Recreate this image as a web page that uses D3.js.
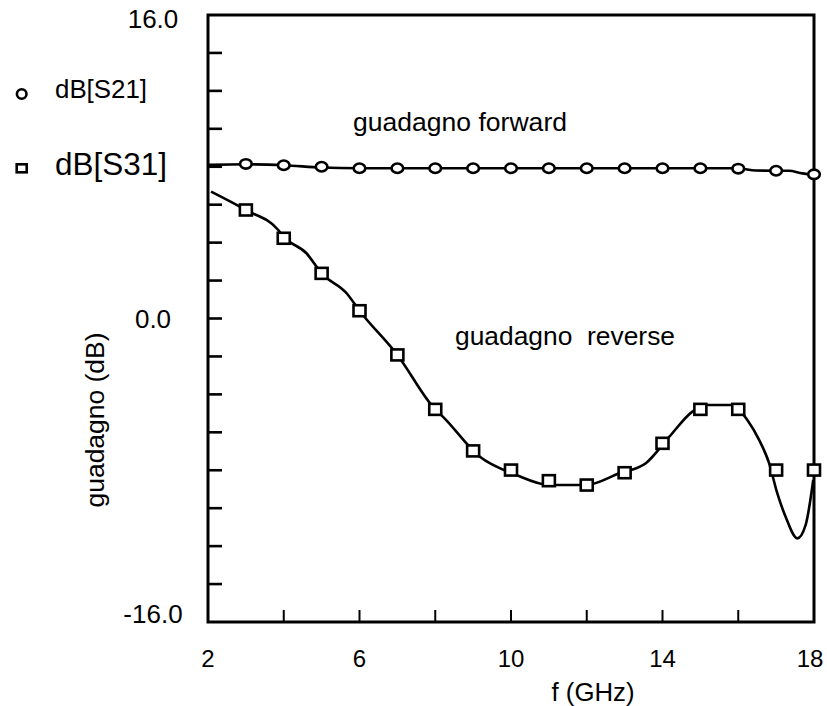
<!DOCTYPE html>
<meta charset="utf-8">
<style>
body { margin: 0; background: #fff; }
svg text { font-family: "Liberation Sans", Arial, sans-serif; fill: #000; white-space: pre; }
.frame { fill: none; stroke: #000; stroke-width: 3; }
.curve { fill: none; stroke: #000; stroke-width: 2.6; }
.mark { fill: #fff; stroke: #000; stroke-width: 2.6; }
</style>
<svg width="827" height="706"></svg>
<script src="https://d3js.org/d3.v7.min.js"></script>
<script>
// frequency (GHz) of the markers
var freqs = [3, 4, 5, 6, 7, 8, 9, 10, 11, 12, 13, 14, 15, 16, 17, 18];
// dB[S21] markers
var s21 = [8.15, 8.08, 8.0, 7.92, 7.92, 7.92, 7.92, 7.92, 7.92, 7.92, 7.92, 7.92, 7.92, 7.9, 7.79, 7.6];
// dB[S31] markers
var s31 = [5.72, 4.23, 2.38, 0.41, -1.92, -4.79, -6.98, -7.99, -8.55, -8.78, -8.13, -6.58, -4.79, -4.79, -7.99, -7.99];

// continuous curves [GHz, dB]
var s21Curve = [[2, 8.1], [3, 8.13], [4, 8.08], [5, 7.96], [6, 7.92], [10, 7.92], [16, 7.92],
  [16.46, 7.8], [17, 7.79], [17.34, 7.79], [17.69, 7.65], [18, 7.58]];
var s31Curve = [[2.08, 6.69], [3, 5.72], [3.85, 4.68], [4, 4.3], [4.6, 3.44], [5, 2.38], [5.66, 1.33],
  [6, 0.41], [7, -1.92], [8, -4.79], [8.2, -5.17], [9.17, -7.28], [10.14, -8.25], [11.01, -8.78],
  [11.98, -8.78], [12.86, -8.16], [13.56, -7.63], [14.18, -6.23], [14.79, -4.91], [15.14, -4.56],
  [15.84, -4.56], [16.24, -5.35], [16.55, -6.4], [16.81, -7.6], [17.03, -9.21], [17.25, -10.45],
  [17.56, -11.59], [17.78, -10.88], [17.98, -8.51]];

var xTicks = [4, 6, 8, 10, 12, 14, 16];
var xLabels = [2, 6, 10, 14, 18];
var yTicks = [14, 12, 10, 8, 6, 4, 2, 0, -2, -4, -6, -8, -10, -12, -14];
var yLabels = [16, 0, -16];

var svg = d3.select("svg");
var x = d3.scaleLinear().domain([2, 18]).range([208, 814]);
var y = d3.scaleLinear().domain([-16, 16]).range([622, 15]);
var fmt = d3.formatLocale({decimal: ".", thousands: ",", grouping: [3], currency: ["", ""], minus: "-"}).format(".1f");

function label(px, py, txt, size, len, anchor) {
  var t = svg.append("text")
      .attr("x", px).attr("y", py)
      .attr("font-size", size)
      .attr("text-anchor", anchor || "start")
      .text(txt);
  if (len) t.attr("textLength", len).attr("lengthAdjust", "spacingAndGlyphs");
  return t;
}

// ticks
svg.append("g").selectAll("line").data(yTicks).enter().append("line")
    .attr("x1", x(2)).attr("x2", x(2) + 14)
    .attr("y1", function(d) { return y(d); }).attr("y2", function(d) { return y(d); })
    .attr("stroke", "#000").attr("stroke-width", 2.6);
svg.append("g").selectAll("line").data(xTicks).enter().append("line")
    .attr("x1", function(d) { return x(d); }).attr("x2", function(d) { return x(d); })
    .attr("y1", y(-16)).attr("y2", y(-16) - 12)
    .attr("stroke", "#000").attr("stroke-width", 2);

svg.append("rect").attr("class", "frame")
    .attr("x", x(2)).attr("y", y(16))
    .attr("width", x(18) - x(2)).attr("height", y(-16) - y(16));

// tick labels
yLabels.forEach(function(v) {
  var cy = Math.max(19, Math.min(614, y(v)));
  label(153, cy + 9.3, fmt(v), 26, null, "middle");
});
xLabels.forEach(function(v) {
  var cx = Math.min(810, x(v));
  label(cx, 666.5, String(v), 24, null, "middle");
});

// axis titles
label(593, 701, "f (GHz)", 26, 83, "middle");
svg.append("text")
    .attr("transform", "translate(104,420) rotate(-90)")
    .attr("font-size", 26)
    .attr("text-anchor", "middle")
    .attr("textLength", 175)
    .attr("lengthAdjust", "spacingAndGlyphs")
    .text("guadagno (dB)");

// curves
var line = d3.line()
    .x(function(d) { return x(d[0]); })
    .y(function(d) { return y(d[1]); })
    .curve(d3.curveMonotoneX);
svg.append("path").attr("class", "curve").attr("d", line(s21Curve));
svg.append("path").attr("class", "curve").attr("d", line(s31Curve));

// markers
svg.append("g").selectAll("ellipse").data(freqs).enter().append("ellipse")
    .attr("class", "mark")
    .attr("cx", function(d) { return x(d); })
    .attr("cy", function(d, i) { return y(s21[i]); })
    .attr("rx", 5.8).attr("ry", 4.7);
svg.append("g").selectAll("rect").data(freqs).enter().append("rect")
    .attr("class", "mark")
    .attr("x", function(d) { return x(d) - 6; })
    .attr("y", function(d, i) { return y(s31[i]) - 5.5; })
    .attr("width", 12).attr("height", 11);

// annotations
label(353, 131, "guadagno forward", 26, 214);
label(455, 345, "guadagno  reverse", 26, 220);

// legend
svg.append("circle").attr("class", "mark").attr("cx", 21.7).attr("cy", 94).attr("r", 4.8);
label(55, 97.5, "dB[S21]", 26, 92);
svg.append("rect").attr("class", "mark").attr("x", 16.7).attr("y", 164.3).attr("width", 10).attr("height", 8);
label(55, 175, "dB[S31]", 31.5, 112);
</script>
